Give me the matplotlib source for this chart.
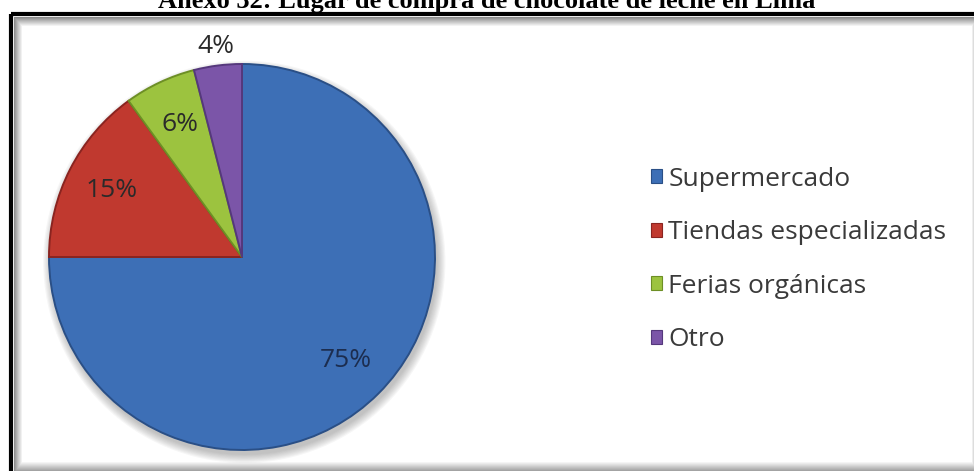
"""Pie chart: where milk chocolate is bought in Lima (Anexo 32)."""

import numpy as np
import matplotlib.pyplot as plt
from matplotlib.patches import Rectangle, Circle

categorias = ['Supermercado', 'Tiendas especializadas', 'Ferias orgánicas', 'Otro']
porcentajes = [75, 15, 6, 4]
colores = ['#3d6fb6', '#c0392f', '#9cc33f', '#7b55a8']
bordes = ['#2a4f86', '#8a2420', '#6d8f25', '#55387c']
titulo = 'Anexo 32: Lugar de compra de chocolate de leche en Lima'

W, H = 974, 471
fig = plt.figure(figsize=(W / 100, H / 100), dpi=100)

# background: white page, inner shadow of the chart box and the black frame
bg = fig.add_axes([0, 0, 1, 1], zorder=0)
bg.set_xlim(0, W)
bg.set_ylim(H, 0)
bg.axis('off')

yy, xx = np.mgrid[0:H, 0:W]
top, left, right = 17, 14, 973
sh_top = np.clip(1 - (yy - top) / 9.0, 0, 1)
sh_left = np.clip(1 - (xx - left) / 8.0, 0, 1)
sh_bot = np.clip(1 - (H - 1 - yy) / 9.0, 0, 1)
sh_right = np.clip(1 - (right - xx) / 2.0, 0, 1)
shade = np.maximum.reduce([sh_top, sh_left, 0.8 * sh_bot, 0.3 * sh_right])
shade[yy < top] = 0
shade[xx < left] = 0
img = 1 - 0.45 * shade
bg.imshow(img, cmap='gray', vmin=0, vmax=1, extent=(0, W, H, 0), aspect='auto',
          interpolation='bilinear')
bg.add_patch(Rectangle((11, 13.5), 1000, 600, fill=False, ec='black', lw=3.0))

fig.text(0.5, 1 - 8 / H, titulo, ha='center', va='baseline',
         fontfamily='Liberation Serif', fontweight='bold', fontsize=19)

# pie
cx, cy, r = 242, 257, 193
ax = fig.add_axes([(cx - r) / W, (H - cy - r) / H, 2 * r / W, 2 * r / H], zorder=2)
ax.axis('off')

wedges, _, autotexts = ax.pie(
    porcentajes, colors=colores, startangle=90, counterclock=False,
    radius=1.0, autopct='%d%%', pctdistance=0.76,
    wedgeprops=dict(linewidth=1.4),
    textprops=dict(fontfamily='Open Sans', fontsize=19, color='#2a2a2a'))
ax.set_xlim(-1.0, 1.0)
ax.set_ylim(-1.0, 1.0)
ax.set_aspect('equal')

# soft shadow under the pie
for k in range(8):
    ax.add_patch(Circle((0.012, -0.025), 1.0 + 0.006 * k, color='#555555',
                        alpha=0.05, lw=0, zorder=0, clip_on=False))

for w, ec in zip(wedges, bordes):
    w.set_edgecolor(ec)
    w.set_zorder(2)

# the smallest slice carries its label outside the pie
w = wedges[3]
ang = np.deg2rad((w.theta1 + w.theta2) / 2)
autotexts[3].set_position((1.1 * np.cos(ang), 1.1 * np.sin(ang)))
autotexts[0].set_color('#1c2d4f')
for t in autotexts:
    t.set_zorder(5)
    t.set_clip_on(False)

leg = fig.legend(wedges, categorias, loc='upper left',
                 bbox_to_anchor=(640 / W, 1 - 156 / H), frameon=False,
                 prop=dict(family='Open Sans', size=19), labelcolor='#3a3a3a',
                 handlelength=0.45, handleheight=0.45, handletextpad=0.22,
                 labelspacing=1.08, borderaxespad=0)
for h in leg.legend_handles:
    h.set_linewidth(0.8)

fig.savefig('out.png', dpi=100)
